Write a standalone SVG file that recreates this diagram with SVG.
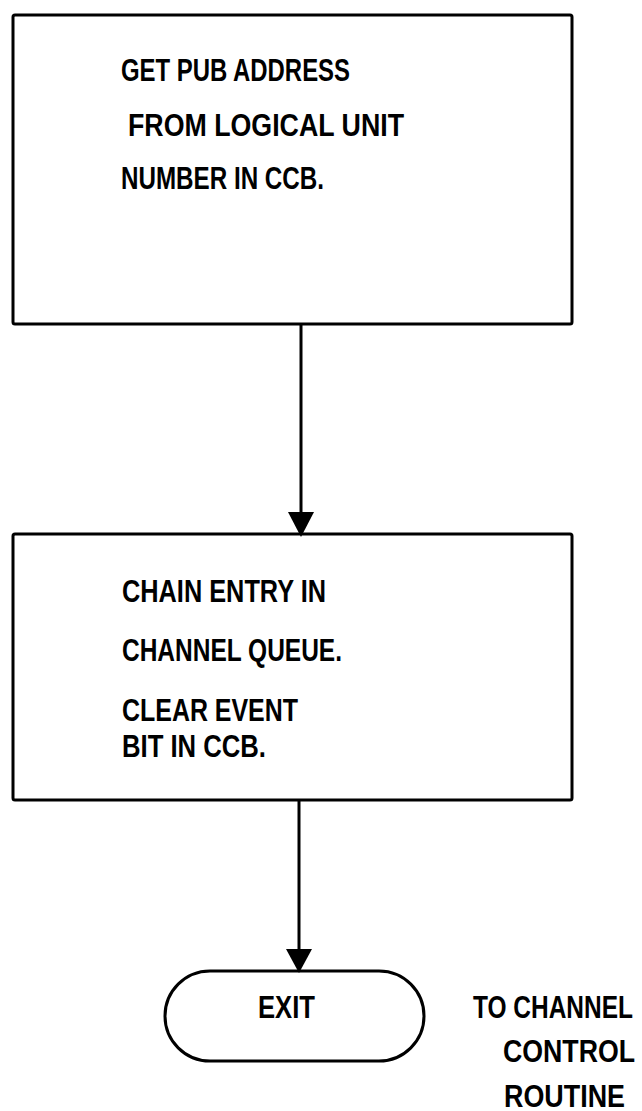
<svg xmlns="http://www.w3.org/2000/svg" width="642" height="1111" viewBox="0 0 642 1111">
<style>
.box{fill:#fff;stroke:#000;stroke-width:3}
.t{font-family:"Liberation Sans",Arial,sans-serif;font-weight:bold;font-size:31px;fill:#000}
.ln{stroke:#000;stroke-width:3;fill:none}
</style>
<defs>
<marker id="ah" viewBox="0 0 26 23" refX="13" refY="23" markerWidth="26" markerHeight="23" markerUnits="userSpaceOnUse" orient="auto-start-reverse">
<path d="M0,0 L26,0 L13,23 Z" fill="#000" transform="rotate(-90 13 11.5) translate(0,0)"/>
</marker>
</defs>
<rect width="642" height="1111" fill="#fff"/>
<g id="node1">
<rect class="box" x="13" y="15" width="559" height="309" rx="2"/>
<text class="t" x="121" y="81" textLength="229" lengthAdjust="spacingAndGlyphs">GET PUB ADDRESS</text>
<text class="t" x="128" y="136" textLength="276" lengthAdjust="spacingAndGlyphs">FROM LOGICAL UNIT</text>
<text class="t" x="121" y="189" textLength="203" lengthAdjust="spacingAndGlyphs">NUMBER IN CCB.</text>
</g>
<g id="node2">
<rect class="box" x="13" y="534" width="559" height="266" rx="2"/>
<text class="t" x="122" y="602" textLength="204" lengthAdjust="spacingAndGlyphs">CHAIN ENTRY IN</text>
<text class="t" x="122" y="661" textLength="220" lengthAdjust="spacingAndGlyphs">CHANNEL QUEUE.</text>
<text class="t" x="122" y="721" textLength="176" lengthAdjust="spacingAndGlyphs">CLEAR EVENT</text>
<text class="t" x="122" y="757" textLength="144" lengthAdjust="spacingAndGlyphs">BIT IN CCB.</text>
</g>
<g id="exit">
<rect class="box" x="165" y="971" width="259" height="90" rx="45" ry="45"/>
<text class="t" x="258" y="1018" textLength="57" lengthAdjust="spacingAndGlyphs">EXIT</text>
</g>
<g id="note">
<text class="t" x="473" y="1018" textLength="160" lengthAdjust="spacingAndGlyphs">TO CHANNEL</text>
<text class="t" x="503" y="1062" textLength="132" lengthAdjust="spacingAndGlyphs">CONTROL</text>
<text class="t" x="504" y="1107" textLength="121" lengthAdjust="spacingAndGlyphs">ROUTINE</text>
</g>
<g id="connectors">
<line class="ln" x1="301" y1="325" x2="301" y2="515"/>
<path d="M288,512 L314,512 L301,537 Z" fill="#000"/>
<line class="ln" x1="299" y1="801" x2="299" y2="952"/>
<path d="M286,949 L312,949 L299,973 Z" fill="#000"/>
</g>
</svg>
